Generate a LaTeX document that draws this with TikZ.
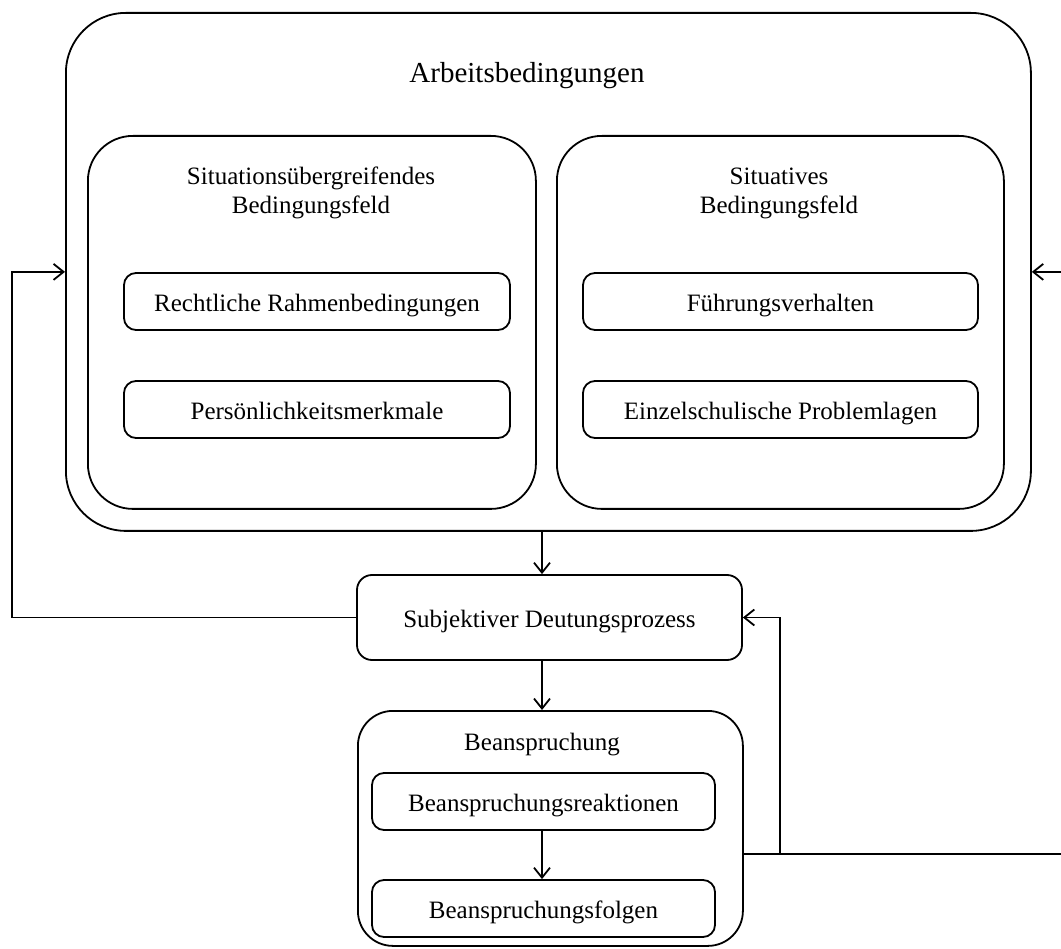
\documentclass[tikz,border=0pt]{standalone}
\usepackage{fontspec}
\setmainfont{Liberation Serif}
\usetikzlibrary{arrows.meta,calc}
\begin{document}
\begin{tikzpicture}[x=1pt,y=-1pt,
  line width=1.8pt,
  arr/.style={-{Straight Barb[length=10pt,width=16pt,line width=1.8pt]}},
  bigbox/.style={draw,rounded corners=#1,inner sep=0pt,anchor=north west},
  smallbox/.style={draw,rounded corners=12pt,inner sep=0pt,font=\fontsize{25}{29}\selectfont,text height=23pt,text depth=3pt},
  lbl/.style={inner sep=0pt,font=\fontsize{25}{29}\selectfont,align=center}]
\useasboundingbox (0,0) rectangle (1061,949);
% outer
\node[bigbox=60pt,minimum width=965pt,minimum height=518pt] (outer) at (65,12) {};
\node[lbl,font=\fontsize{29}{34}\selectfont] (outertitle) at (527,76) {Arbeitsbedingungen};
% left inner
\node[bigbox=45pt,minimum width=448pt,minimum height=373pt] (left) at (87,135) {};
\node[lbl] (lefttitle) at (311,193) {Situationsübergreifendes\\Bedingungsfeld};
\node[smallbox,minimum width=386pt,minimum height=57pt] (recht) at (317,301.5) {Rechtliche Rahmenbedingungen};
\node[smallbox,minimum width=386pt,minimum height=57pt] (pers) at (317,409.5) {Persönlichkeitsmerkmale};
% right inner
\node[bigbox=45pt,minimum width=447pt,minimum height=373pt] (right) at (556,135) {};
\node[lbl] (righttitle) at (779,193) {Situatives\\Bedingungsfeld};
\node[smallbox,minimum width=395pt,minimum height=57pt] (fuehr) at (780.5,301.5) {Führungsverhalten};
\node[smallbox,minimum width=395pt,minimum height=57pt] (einzel) at (780.5,409.5) {Einzelschulische Problemlagen};
% Subjektiver Deutungsprozess
\node[smallbox,rounded corners=15pt,minimum width=385pt,minimum height=85pt] (subj) at (549.5,617.5) {Subjektiver Deutungsprozess};
% Beanspruchung
\node[bigbox=35pt,minimum width=385pt,minimum height=235pt] (bean) at (357,710) {};
\node[lbl] (beantitle) at (542,745) {Beanspruchung};
\node[smallbox,minimum width=343pt,minimum height=57pt] (reak) at (543.5,801.5) {Beanspruchungsreaktionen};
\node[smallbox,minimum width=343pt,minimum height=57pt] (folg) at (543.5,908.5) {Beanspruchungsfolgen};
% connectors
\draw[arr] (outer.south -| 542,0) -- (subj.north -| 542,0);
\draw[arr] (subj.south -| 542,0) -- (bean.north -| 542,0);
\draw[arr] (reak.south -| 542,0) -- (folg.north -| 542,0);
\draw[arr] (subj.west) -- (12,617.5) |- (outer.west);
\draw[arr] (bean.east |- 0,854) -- (1064,854) |- (outer.east);
\coordinate (branch) at (780,854);
\draw[arr] (branch) |- (subj.east);
\end{tikzpicture}
\end{document}
